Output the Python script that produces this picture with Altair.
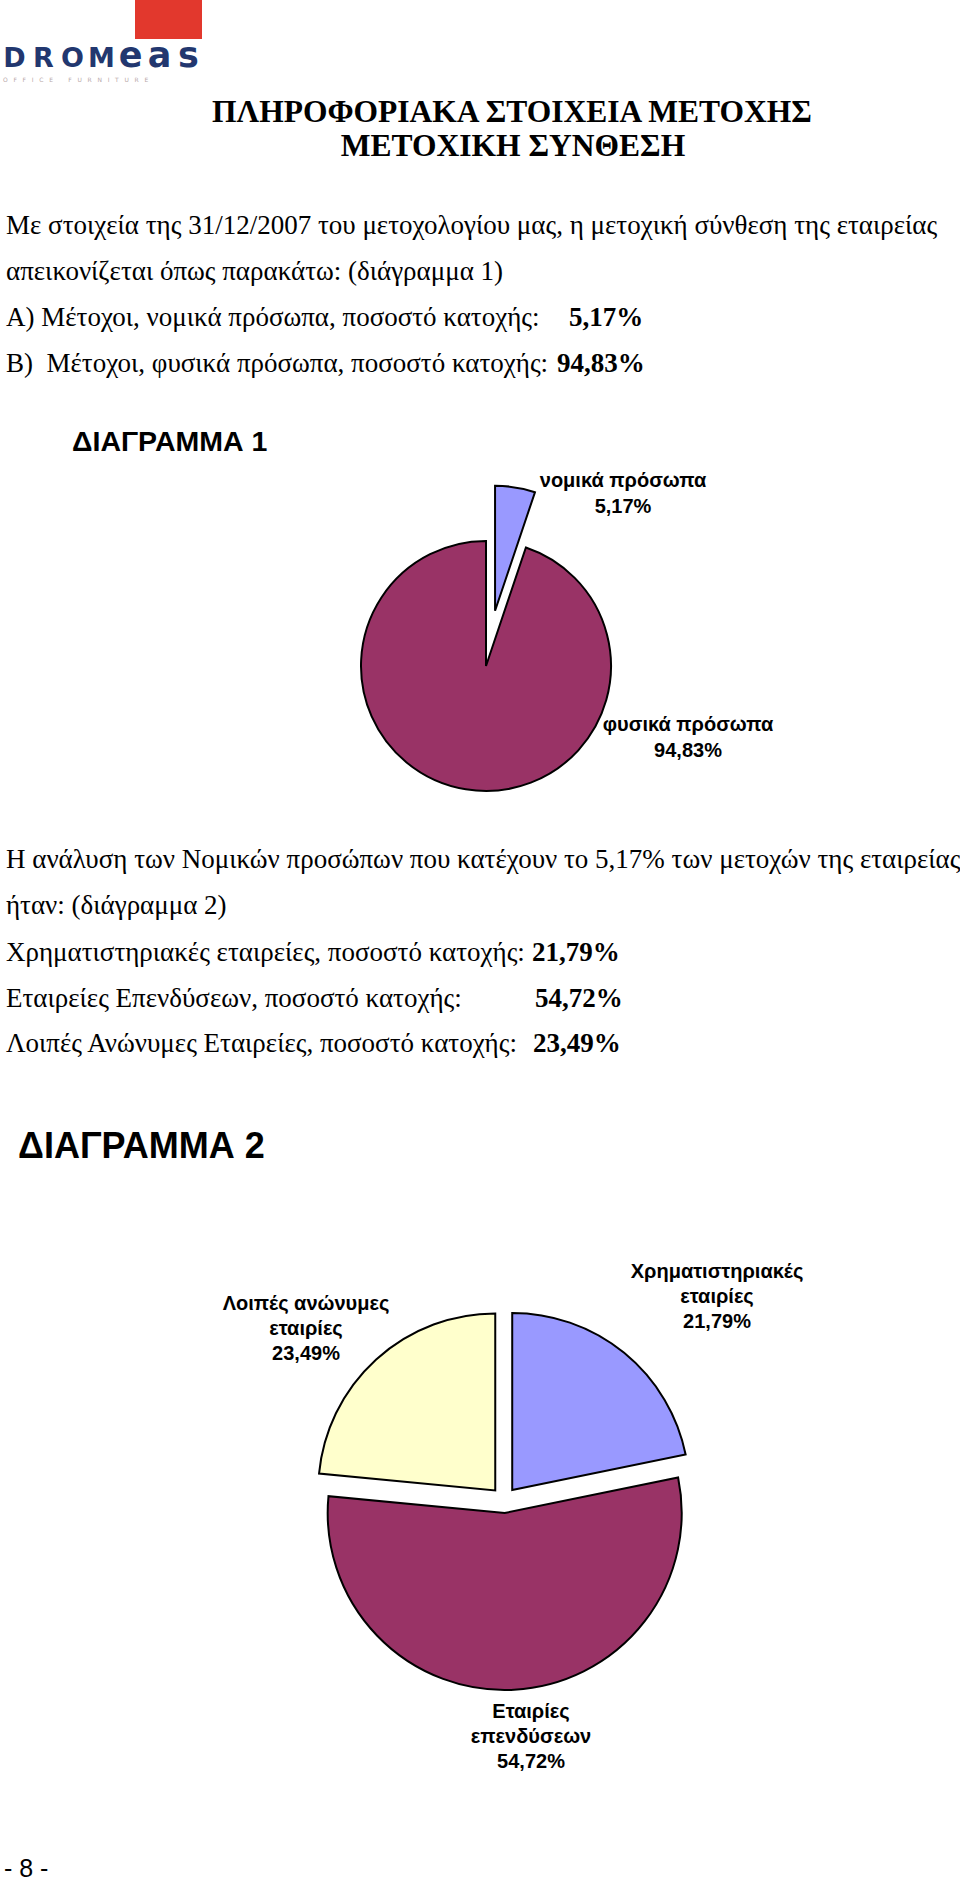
import altair as alt
import pandas as pd

# ---------------- data ----------------
pie1_categories = ["νομικά πρόσωπα", "φυσικά πρόσωπα"]
pie1_values = [5.17, 94.83]
pie1_colors = ["#9999FF", "#993366"]

pie2_categories = ["Χρηματιστηριακές εταιρίες", "Εταιρίες επενδύσεων", "Λοιπές ανώνυμες εταιρίες"]
pie2_label_names = ["Χρηματιστηριακές\nεταιρίες", "Εταιρίες\nεπενδύσεων", "Λοιπές ανώνυμες\nεταιρίες"]
pie2_values = [21.79, 54.72, 23.49]
pie2_colors = ["#9999FF", "#993366", "#FFFFCC"]

logo_upper = ["D", "R", "O", "M"]
logo_lower = ["e", "a", "s"]

df1 = pd.DataFrame({"category": pie1_categories, "label": pie1_categories,
                    "value": pie1_values, "order": list(range(len(pie1_values)))})
df2 = pd.DataFrame({"category": pie2_categories, "label": pie2_label_names,
                    "value": pie2_values, "order": list(range(len(pie2_values)))})
base = pd.DataFrame({"k": [0]})

PCT = "replace(format(datum.value, '.2f'), '.', ',') + '%'"
NB = "\u00a0"


def pie_layer(df, cats, colors, cx, cy, r, explode_expr):
    return (
        alt.Chart(df)
        .transform_window(cum="sum(value)", sort=[alt.SortField("order")], frame=[None, 0])
        .transform_joinaggregate(total="sum(value)")
        .transform_calculate(t1="2*PI*datum.cum/datum.total",
                             t0="2*PI*(datum.cum-datum.value)/datum.total")
        .transform_calculate(mid="(datum.t0+datum.t1)/2", ex=explode_expr)
        .transform_calculate(px=f"{cx} + datum.ex*sin(datum.mid)",
                             py=f"{cy} - datum.ex*cos(datum.mid)")
        .mark_arc(radius=r, stroke="black", strokeWidth=2)
        .encode(
            theta=alt.Theta("t0:Q", scale=None),
            theta2=alt.Theta2("t1:Q"),
            x=alt.X("px:Q", scale=None, axis=None),
            y=alt.Y("py:Q", scale=None, axis=None),
            color=alt.Color("category:N", scale=alt.Scale(domain=cats, range=colors), legend=None),
        )
    )


def pie_label(df, cat, x, y, size=20, lh=26):
    return (
        alt.Chart(df)
        .transform_filter(alt.datum.category == cat)
        .transform_calculate(txt="datum.label + '\\n' + " + PCT)
        .mark_text(font="Liberation Sans", fontWeight="bold", fontSize=size, lineBreak="\n",
                   lineHeight=lh, align="center", baseline="alphabetic", color="black")
        .encode(x=alt.value(x), y=alt.value(y), text="txt:N")
    )


def value_text(df, cat, x, y, size=27):
    return (
        alt.Chart(df)
        .transform_filter(alt.datum.category == cat)
        .transform_calculate(txt=PCT)
        .mark_text(font="Liberation Serif", fontWeight="bold", fontSize=size,
                   align="left", baseline="alphabetic", color="black")
        .encode(x=alt.value(x), y=alt.value(y), text="txt:N")
    )


def st(s, x, y, size=27, font="Liberation Serif", bold=False, align="left", color="black"):
    return (
        alt.Chart(base)
        .mark_text(text=s, font=font, fontSize=size, fontWeight="bold" if bold else "normal",
                   align=align, baseline="alphabetic", color=color)
        .encode(x=alt.value(x), y=alt.value(y))
    )


layers = []

# ---------------- logo ----------------
layers.append(
    alt.Chart(base).mark_rect(color="#E2382D")
    .encode(x=alt.value(135), x2=alt.value(202), y=alt.value(0), y2=alt.value(39))
)
layers.append(
    alt.Chart(pd.DataFrame({"ch": logo_upper}))
    .transform_window(i="row_number()")
    .transform_calculate(px="14.5 + (datum.i-1)*29")
    .mark_text(font="DejaVu Sans", fontWeight="bold", fontSize=27, align="center",
               baseline="alphabetic", color="#22376F")
    .encode(x=alt.X("px:Q", scale=None, axis=None), y=alt.value(67), text="ch:N")
)
layers.append(
    alt.Chart(pd.DataFrame({"ch": logo_lower}))
    .transform_window(i="row_number()")
    .transform_calculate(px="14.5 + (datum.i+3)*29")
    .mark_text(font="DejaVu Sans", fontWeight="bold", fontSize=35, align="center",
               baseline="alphabetic", color="#22376F")
    .encode(x=alt.X("px:Q", scale=None, axis=None), y=alt.value(67), text="ch:N")
)
logo_sub = (NB * 3).join("OFFICE") + NB * 8 + (NB * 3).join("FURNITURE")
layers.append(st(logo_sub, 3, 82, size=6, font="DejaVu Sans", color="#B8A8A8"))

# ---------------- titles ----------------
layers.append(st("ΠΛΗΡΟΦΟΡΙΑΚΑ ΣΤΟΙΧΕΙΑ ΜΕΤΟΧΗΣ", 512, 122, size=31.5, bold=True, align="center"))
layers.append(st("ΜΕΤΟΧΙΚΗ ΣΥΝΘΕΣΗ", 513, 156, size=31.5, bold=True, align="center"))

# ---------------- body text block 1 ----------------
layers.append(st("Με στοιχεία της 31/12/2007 του μετοχολογίου μας, η μετοχική σύνθεση της εταιρείας", 6, 234))
layers.append(st("απεικονίζεται όπως παρακάτω: (διάγραμμα 1)", 6, 280))
layers.append(st("Α) Μέτοχοι, νομικά πρόσωπα, ποσοστό κατοχής:", 6, 326))
layers.append(value_text(df1, pie1_categories[0], 569, 326))
layers.append(st("Β)" + NB + NB + "Μέτοχοι, φυσικά πρόσωπα, ποσοστό κατοχής:", 6, 372))
layers.append(value_text(df1, pie1_categories[1], 557, 372))

# ---------------- chart 1 ----------------
layers.append(st("ΔΙΑΓΡΑΜΜΑ 1", 72, 451, size=28.5, font="Liberation Sans", bold=True))
layers.append(pie_layer(df1, pie1_categories, pie1_colors, 486, 666, 125,
                        f"datum.category == '{pie1_categories[0]}' ? 56 : 0"))
layers.append(pie_label(df1, pie1_categories[0], 623, 487))
layers.append(pie_label(df1, pie1_categories[1], 688, 731))

# ---------------- body text block 2 ----------------
layers.append(st("Η ανάλυση των Νομικών προσώπων που κατέχουν το 5,17% των μετοχών της εταιρείας", 6, 868))
layers.append(st("ήταν: (διάγραμμα 2)", 6, 914))
layers.append(st("Χρηματιστηριακές εταιρείες, ποσοστό κατοχής:", 6, 961))
layers.append(value_text(df2, pie2_categories[0], 532, 961))
layers.append(st("Εταιρείες Επενδύσεων, ποσοστό κατοχής:", 6, 1007))
layers.append(value_text(df2, pie2_categories[1], 535, 1007))
layers.append(st("Λοιπές Ανώνυμες Εταιρείες, ποσοστό κατοχής:", 6, 1052))
layers.append(value_text(df2, pie2_categories[2], 533, 1052))

# ---------------- chart 2 ----------------
layers.append(st("ΔΙΑΓΡΑΜΜΑ 2", 18, 1158, size=36, font="Liberation Sans", bold=True))
layers.append(pie_layer(df2, pie2_categories, pie2_colors, 504, 1500, 177, "13"))
layers.append(pie_label(df2, pie2_categories[0], 717, 1278, lh=25))
layers.append(pie_label(df2, pie2_categories[1], 531, 1718, lh=25))
layers.append(pie_label(df2, pie2_categories[2], 306, 1310, lh=25))

# ---------------- page number ----------------
layers.append(st("- 8 -", 4, 1877, size=25, font="Liberation Sans"))

chart = (
    alt.layer(*layers)
    .resolve_scale(color="independent")
    .properties(width=960, height=1886, padding=0, background="white",
                autosize=alt.AutoSizeParams(type="none"))
    .configure_view(stroke=None)
)

chart.save("out.html", embed_options={"renderer": "svg", "actions": False})
